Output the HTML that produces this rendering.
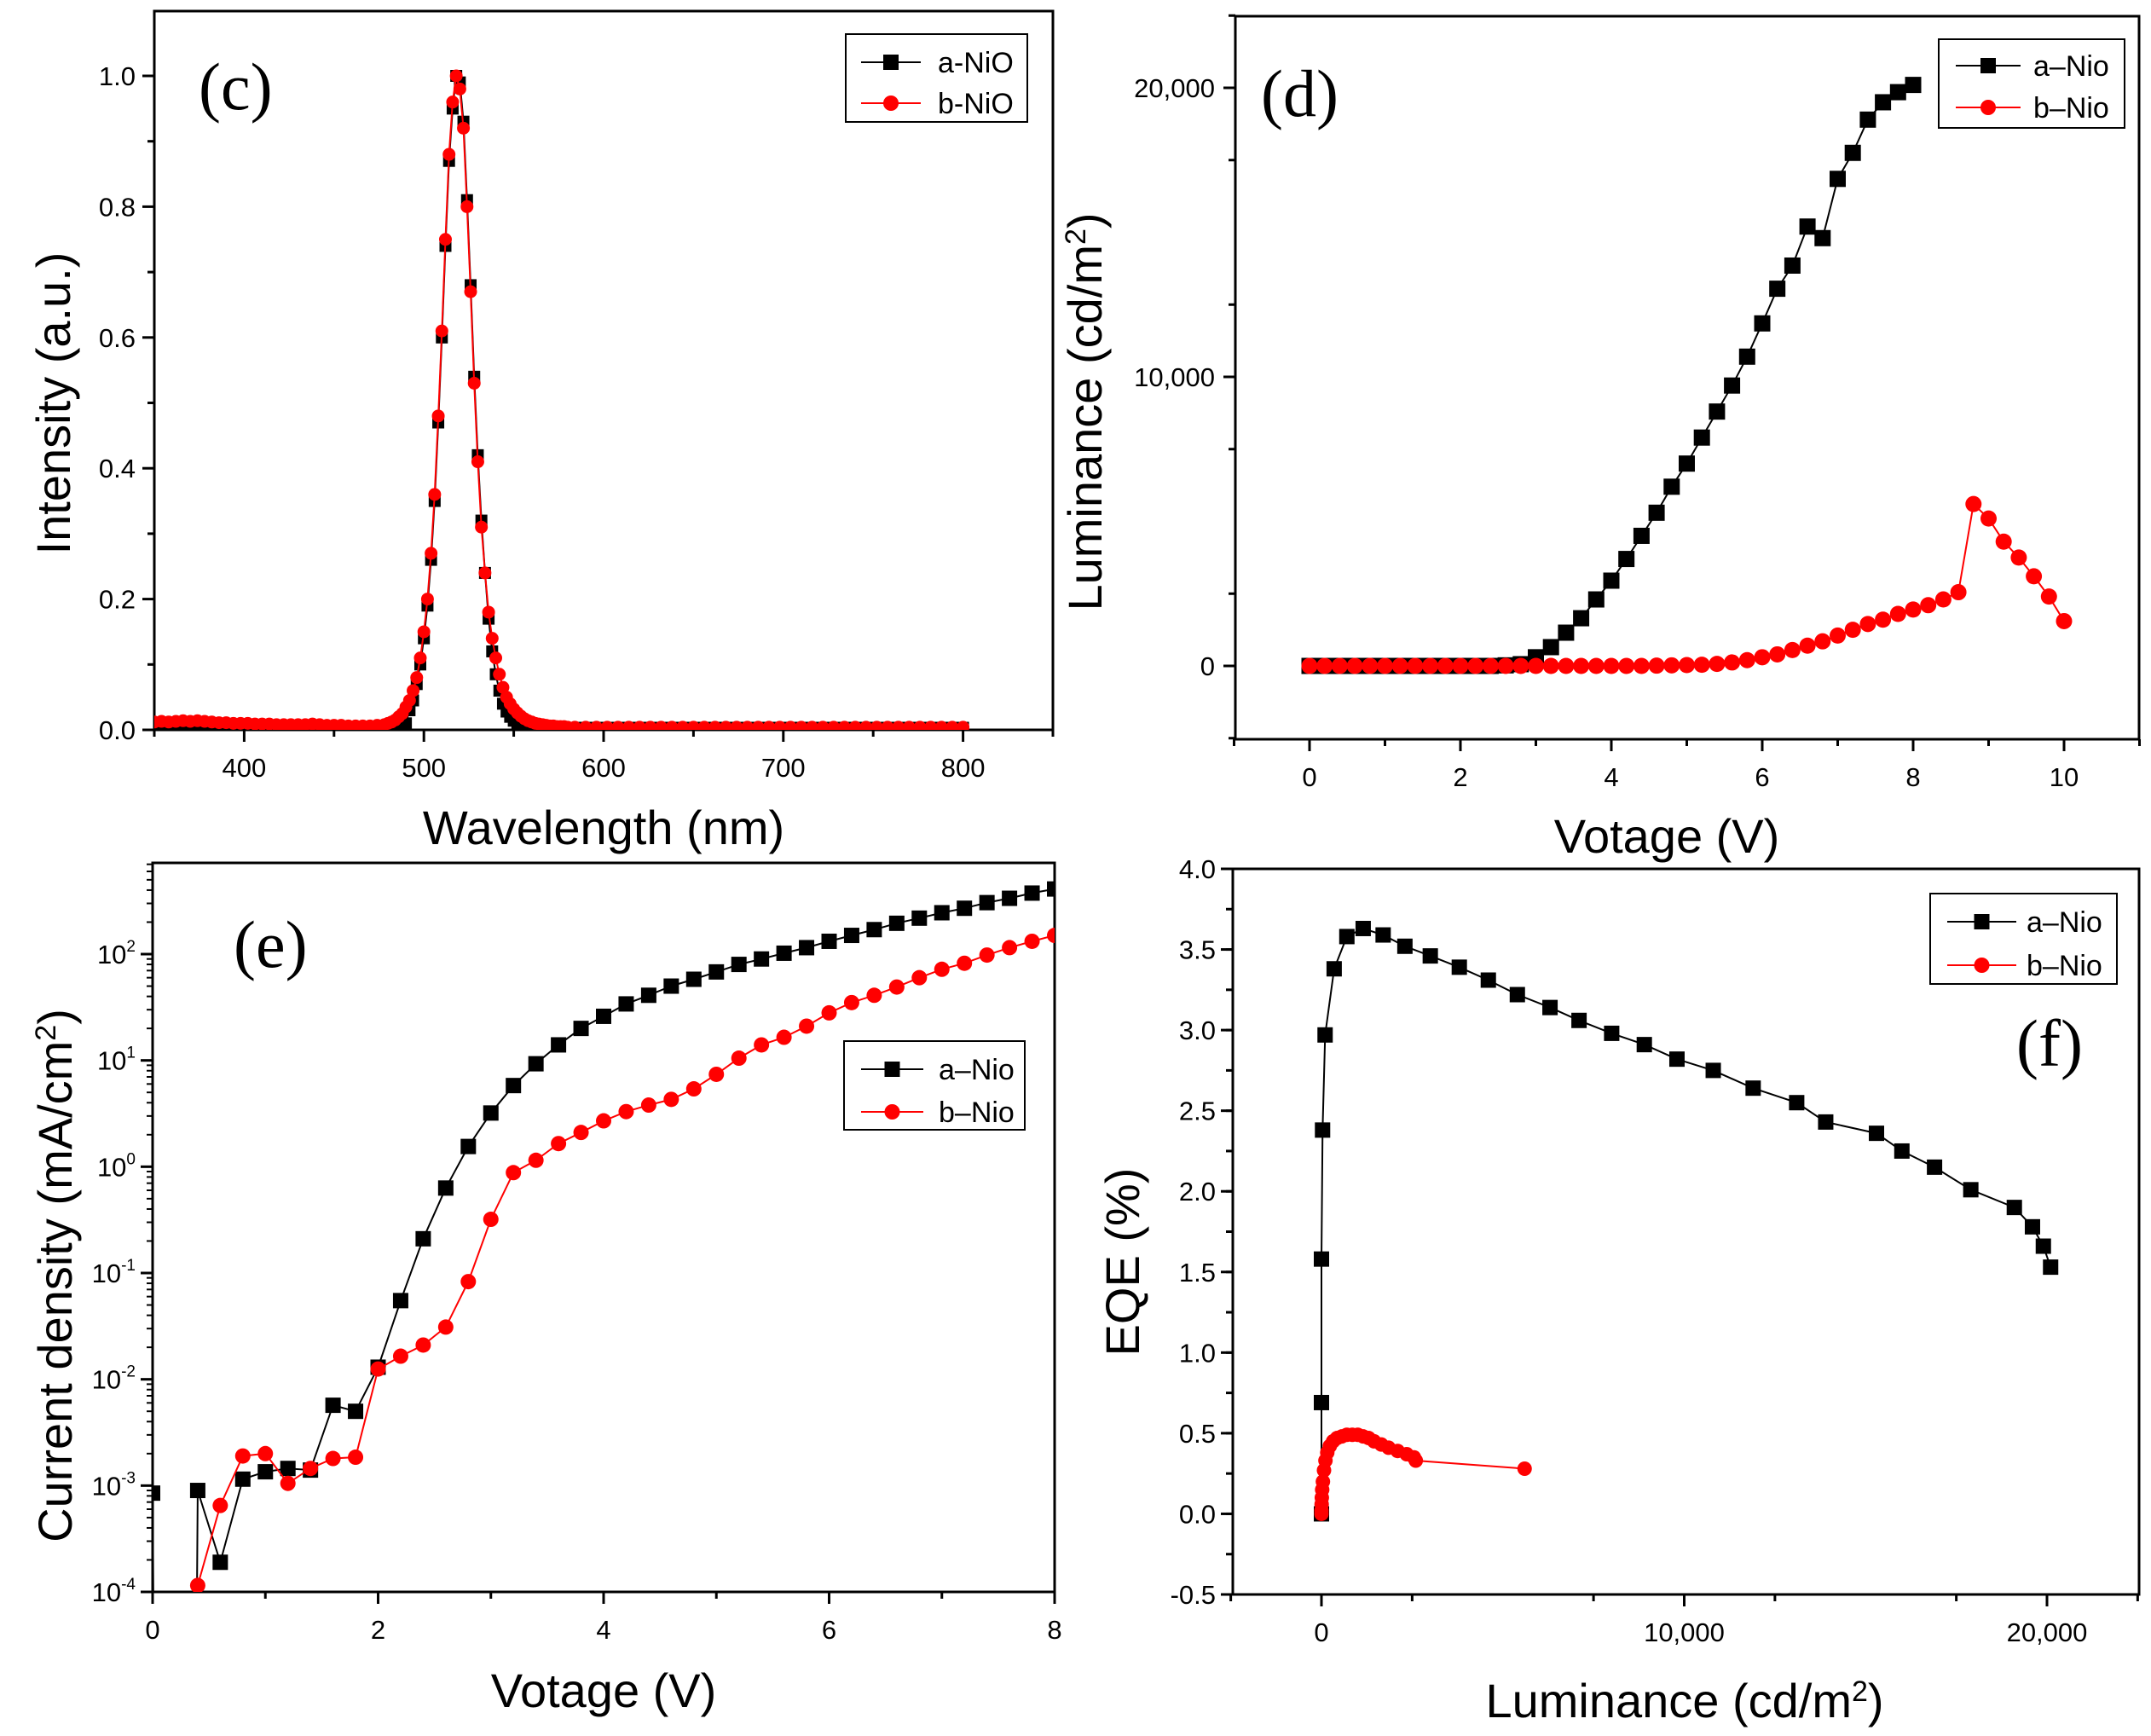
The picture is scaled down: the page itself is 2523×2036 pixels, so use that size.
<!DOCTYPE html>
<html><head><meta charset="utf-8"><style>
html,body{margin:0;padding:0;background:#fff}
svg{display:block}
text{font-family:"Liberation Sans",Arial,sans-serif;fill:#000}
.tk{font-size:31px}
.ttl{font-size:56px}
.lg{font-size:34px}
.pl{font-family:"Liberation Serif",serif;font-size:78px}
</style></head><body>
<svg id="fig" xmlns="http://www.w3.org/2000/svg" width="2523" height="2036" viewBox="0 0 2523 2036">
<defs>
<clipPath id="clipC"><rect x="181" y="13" width="1054" height="843"/></clipPath>
<clipPath id="clipD"><rect x="1449" y="19" width="1060" height="848"/></clipPath>
<clipPath id="clipE"><rect x="179" y="1012" width="1058" height="855"/></clipPath>
<clipPath id="clipF"><rect x="1446" y="1019" width="1063" height="851"/></clipPath>
</defs>
</svg>
<script>
// ---------- data ----------
// Panel (c) PL spectra
const cWaveTail1 = [350,354,358,362,366,370,374,378,382,386,390,394,398,402,406,410,414,418,422,426,430,434,438,442,446,450,454,458,462,466,470,474,478];
const cRedTail1 = [0.012,0.013,0.012,0.013,0.014,0.013,0.014,0.013,0.012,0.011,0.011,0.010,0.010,0.010,0.009,0.009,0.009,0.008,0.008,0.008,0.008,0.008,0.009,0.008,0.007,0.007,0.007,0.006,0.006,0.006,0.006,0.007,0.008];
const cWavePeak = [480,482,484,486,488,490,492,494,496,498,500,502,504,506,508,510,512,514,516,518,520,522,524,526,528,530,532,534,536,538,540,542,544,546,548,550,552,554,556,558,560,562,564,566,568,570,572,574,576,578,580];
const cRedPeak = [0.010,0.012,0.015,0.020,0.025,0.035,0.045,0.060,0.080,0.110,0.150,0.200,0.270,0.360,0.480,0.610,0.750,0.880,0.960,1.000,0.980,0.920,0.800,0.670,0.530,0.410,0.310,0.240,0.180,0.140,0.110,0.085,0.065,0.050,0.040,0.032,0.026,0.021,0.017,0.014,0.012,0.010,0.009,0.008,0.007,0.006,0.006,0.005,0.005,0.005,0.004];
const cBlackPeak = [0.000,0.000,0.000,0.000,0.002,0.010,0.030,0.045,0.070,0.100,0.140,0.190,0.260,0.350,0.470,0.600,0.740,0.870,0.950,1.000,0.990,0.930,0.810,0.680,0.540,0.420,0.320,0.240,0.170,0.120,0.085,0.060,0.040,0.028,0.020,0.014,0.010,0.007,0.005,0.004,0.003,0.003,0.003,0.003,0.003,0.003,0.003,0.003,0.003,0.003,0.003];
const cWaveTail2 = [584,590,596,602,608,614,620,626,632,638,644,650,656,662,668,674,680,686,692,698,704,710,716,722,728,734,740,746,752,758,764,770,776,782,788,794,800];
const cRedTail2 = [0.004,0.004,0.004,0.004,0.004,0.004,0.004,0.004,0.004,0.004,0.004,0.004,0.004,0.004,0.004,0.004,0.004,0.004,0.004,0.004,0.004,0.004,0.004,0.004,0.004,0.004,0.004,0.004,0.004,0.004,0.004,0.004,0.004,0.004,0.004,0.004,0.004];
// Panel (d) L-V
const dVa = [0,0.2,0.4,0.6,0.8,1.0,1.2,1.4,1.6,1.8,2.0,2.2,2.4,2.6,2.8,3.0,3.2,3.4,3.6,3.8,4.0,4.2,4.4,4.6,4.8,5.0,5.2,5.4,5.6,5.8,6.0,6.2,6.4,6.6,6.8,7.0,7.2,7.4,7.6,7.8,8.0];
const dLa = [0,0,0,0,0,0,0,0,0,0,0,0,0,20,60,300,650,1150,1650,2300,2950,3700,4500,5300,6200,7000,7900,8800,9700,10700,11850,13050,13850,15200,14800,16850,17750,18900,19500,19850,20100];
const dVb = [0,0.2,0.4,0.6,0.8,1.0,1.2,1.4,1.6,1.8,2.0,2.2,2.4,2.6,2.8,3.0,3.2,3.4,3.6,3.8,4.0,4.2,4.4,4.6,4.8,5.0,5.2,5.4,5.6,5.8,6.0,6.2,6.4,6.6,6.8,7.0,7.2,7.4,7.6,7.8,8.0,8.2,8.4,8.6,8.8,9.0,9.2,9.4,9.6,9.8,10.0];
const dLb = [0,0,0,0,0,0,0,0,0,0,0,0,0,0,0,0,0,0,0,0,0,0,0,10,20,30,40,70,120,200,300,400,550,700,850,1050,1250,1450,1600,1800,1950,2100,2300,2550,5600,5100,4300,3750,3100,2400,1550];
// Panel (e) J-V (log)
const eVa = [0,0.02,0.38,0.4,0.6,0.8,1.0,1.2,1.4,1.6,1.8,2.0,2.2,2.4,2.6,2.8,3.0,3.2,3.4,3.6,3.8,4.0,4.2,4.4,4.6,4.8,5.0,5.2,5.4,5.6,5.8,6.0,6.2,6.4,6.6,6.8,7.0,7.2,7.4,7.6,7.8,8.0];
const eJa = [8.5e-4,1e-6,1e-6,9e-4,1.9e-4,1.15e-3,1.35e-3,1.45e-3,1.4e-3,5.7e-3,5e-3,1.3e-2,5.5e-2,0.21,0.63,1.55,3.2,5.8,9.3,14,20,26,34,41,50,58,68,80,90,102,115,132,150,170,195,218,245,270,305,335,375,410];
const eVb = [0.36,0.4,0.6,0.8,1.0,1.2,1.4,1.6,1.8,2.0,2.2,2.4,2.6,2.8,3.0,3.2,3.4,3.6,3.8,4.0,4.2,4.4,4.6,4.8,5.0,5.2,5.4,5.6,5.8,6.0,6.2,6.4,6.6,6.8,7.0,7.2,7.4,7.6,7.8,8.0];
const eJb = [1e-6,1.15e-4,6.5e-4,1.9e-3,2e-3,1.05e-3,1.45e-3,1.8e-3,1.85e-3,1.25e-2,1.65e-2,2.1e-2,3.1e-2,8.3e-2,0.32,0.88,1.15,1.65,2.1,2.7,3.3,3.8,4.3,5.4,7.4,10.5,14,16.5,21,28,35,41,49,60,72,82,98,115,132,150];
// Panel (f) EQE-L
const fLa = [0,0,0,30,100,350,700,1150,1700,2300,3000,3800,4600,5400,6300,7100,8000,8900,9800,10800,11900,13100,13900,15300,16000,16900,17900,19100,19600,19900,20100];
const fEa = [0,0.69,1.58,2.38,2.97,3.38,3.58,3.63,3.59,3.52,3.46,3.39,3.31,3.22,3.14,3.06,2.98,2.91,2.82,2.75,2.64,2.55,2.43,2.36,2.25,2.15,2.01,1.9,1.78,1.66,1.53];
const fLb = [0,0,5,10,20,40,70,110,160,230,320,430,560,700,850,1000,1150,1300,1450,1650,1850,2100,2350,2550,2600,5600];
const fEb = [0,0.02,0.06,0.1,0.15,0.2,0.27,0.33,0.38,0.42,0.45,0.47,0.48,0.49,0.49,0.49,0.48,0.47,0.45,0.43,0.41,0.39,0.37,0.35,0.33,0.28];
// ticks
const cXTicks = [400,500,600,700,800];
const cYTicks = [0.0,0.2,0.4,0.6,0.8,1.0];
const dXTicks = [0,2,4,6,8,10];
const dYTicks = [0,10000,20000];
const dYLabels = ["0","10,000","20,000"];
const eXTicks = [0,2,4,6,8];
const eYExp = [-4,-3,-2,-1,0,1,2];
const fXTicks = [0,10000,20000];
const fXLabels = ["0","10,000","20,000"];
const fYTicks = [-0.5,0.0,0.5,1.0,1.5,2.0,2.5,3.0,3.5,4.0];

// ---------- helpers ----------
const NS="http://www.w3.org/2000/svg";
const svg=document.getElementById('fig');
function el(tag,attrs,parent){const e=document.createElementNS(NS,tag);for(const k in attrs)e.setAttribute(k,attrs[k]);(parent||svg).appendChild(e);return e;}
function txt(s,attrs,parent){const t=el('text',attrs,parent);t.textContent=s;return t;}
function lin(a,b,c,d){return v=>c+(v-a)*(d-c)/(b-a);}
function logs(a,b,c,d){return v=>c+(Math.log10(v)-a)*(d-c)/(b-a);}
function frame(g,x0,x1,y0,y1){
  el('rect',{x:x0,y:y0,width:x1-x0,height:y1-y0,fill:'none',stroke:'#000','stroke-width':3},g);
}
function series(g,xs,ys,sx,sy,color,shape,clip,size){
  const sg=el('g',{'clip-path':'url(#'+clip+')'},g);
  let d='';
  xs.forEach((x,i)=>{d+=(i?'L':'M')+sx(x).toFixed(1)+','+sy(ys[i]).toFixed(1);});
  const p=el('path',{d:d,fill:'none',stroke:color,'stroke-width':2},sg);
  
  
  xs.forEach((x,i)=>{
    const X=sx(x),Y=sy(ys[i]);
    let m;
    if(shape==='sq'){m=el('rect',{x:X-size/2,y:Y-size/2,width:size,height:size,fill:color},sg);}
    else{m=el('circle',{cx:X,cy:Y,r:size/2,fill:color},sg);}
    
    
  });
}
function legend(g,bx,by,bw,bh,r1,r2,lx0,lx1,tx,lab1,lab2,ms){
  const lg=el('g',{},g);
  
  
  el('rect',{x:bx,y:by,width:bw,height:bh,fill:'#fff',stroke:'#000','stroke-width':2},lg);
  const mx=(lx0+lx1)/2;
  el('line',{x1:lx0,y1:r1,x2:lx1,y2:r1,stroke:'#000','stroke-width':2},lg);
  el('rect',{x:mx-ms/2,y:r1-ms/2,width:ms,height:ms,fill:'#000'},lg);
  const t1=txt(lab1,{x:tx,y:r1+12,class:'lg'},lg);
  
  
  el('line',{x1:lx0,y1:r2,x2:lx1,y2:r2,stroke:'#f00','stroke-width':2},lg);
  el('circle',{cx:mx,cy:r2,r:ms/2,fill:'#f00'},lg);
  const t2=txt(lab2,{x:tx,y:r2+12,class:'lg'},lg);
  
  
}
function vtitle(g,x,y,parts,name){
  const t=el('text',{x:0,y:0,class:'ttl','text-anchor':'middle',transform:'translate('+x+','+y+') rotate(-90)'},g);
  
  
  parts.forEach(p=>{const s=el('tspan',p[1]?{'baseline-shift':'super','font-size':'34px'}:{},t);s.textContent=p[0];});
  return t;
}
function htitle(g,x,y,parts,name){
  const t=el('text',{x:x,y:y,class:'ttl','text-anchor':'middle'},g);
  
  
  parts.forEach(p=>{const s=el('tspan',p[1]?{'baseline-shift':'super','font-size':'34px'}:{},t);s.textContent=p[0];});
  return t;
}

// ---------- Panel C ----------
(function(){
const g=el('g',{});


const X0=181,X1=1235,Y0=13,Y1=856;
const sx=lin(350,850,X0,X1), sy=lin(0,1.0,856,89);
frame(g,X0,X1,Y0,Y1);
for(let v=350;v<=850;v+=50){const X=sx(v);el('line',{x1:X,y1:Y1,x2:X,y2:Y1+(v%100===0?14:8),stroke:'#000','stroke-width':3},g);}
cXTicks.forEach(v=>{const t=txt(String(v),{x:sx(v),y:Y1+55,class:'tk','text-anchor':'middle'},g);});
for(let i=0;i<=10;i++){const Y=sy(i*0.1);el('line',{x1:X0,y1:Y,x2:X0-(i%2===0?14:8),y2:Y,stroke:'#000','stroke-width':3},g);}
cYTicks.forEach(v=>{const t=txt(v.toFixed(1),{x:X0-22,y:sy(v)+11,class:'tk','text-anchor':'end'},g);});
const bx=cWaveTail1.concat(cWavePeak,cWaveTail2);
const blk=cRedTail1.map(v=>v*0.6).concat(cBlackPeak,cRedTail2.map(v=>v*0.8));
const red=cRedTail1.concat(cRedPeak,cRedTail2);
series(g,bx,blk,sx,sy,'#000','sq','clipC',14);
series(g,bx,red,sx,sy,'#f00','ci','clipC',15);
legend(g,992,40,213,103,73,121,1010,1080,1100,'a-NiO','b-NiO',18);
const p=txt('(c)',{x:233,y:128,class:'pl'},g);
vtitle(g,82,473,[['Intensity (a.u.)']],'y-axis-title');
htitle(g,708,990,[['Wavelength (nm)']],'x-axis-title');
})();

// ---------- Panel D ----------
(function(){
const g=el('g',{});


const X0=1449,X1=2509,Y0=19,Y1=867;
const sx=lin(0,10,1536,2421), sy=lin(0,20000,781,103);
frame(g,X0,X1,Y0,Y1);
for(let v=-1;v<=11;v++){const X=sx(v);el('line',{x1:X,y1:Y1,x2:X,y2:Y1+(v%2===0?14:8),stroke:'#000','stroke-width':3},g);}
dXTicks.forEach(v=>{const t=txt(String(v),{x:sx(v),y:Y1+55,class:'tk','text-anchor':'middle'},g);});
for(let v=-2500;v<=22500;v+=5000){const Y=sy(v);el('line',{x1:X0,y1:Y,x2:X0-8,y2:Y,stroke:'#000','stroke-width':3},g);}
dYTicks.forEach((v,i)=>{const Y=sy(v);el('line',{x1:X0,y1:Y,x2:X0-14,y2:Y,stroke:'#000','stroke-width':3},g);const t=txt(dYLabels[i],{x:X0-24,y:Y+11,class:'tk','text-anchor':'end'},g);});
series(g,dVa,dLa,sx,sy,'#000','sq','clipD',19);
series(g,dVb,dLb,sx,sy,'#f00','ci','clipD',19);
legend(g,2274,46,218,104,77,126,2294,2370,2385,'a\u2013Nio','b\u2013Nio',18);
const p=txt('(d)',{x:1479,y:136,class:'pl'},g);
vtitle(g,1292,483,[['Luminance (cd/m'],['2',1],[')']],'y-axis-title');
htitle(g,1955,1000,[['Votage (V)']],'x-axis-title');
})();

// ---------- Panel E ----------
(function(){
const g=el('g',{});


const X0=179,X1=1237,Y0=1012,Y1=1867;
const sx=lin(0,8,X0,X1), sy=logs(-4,2,1867,1119);
frame(g,X0,X1,Y0,Y1);
for(let v=0;v<=8;v++){const X=sx(v);el('line',{x1:X,y1:Y1,x2:X,y2:Y1+(v%2===0?14:8),stroke:'#000','stroke-width':3},g);}
eXTicks.forEach(v=>{const t=txt(String(v),{x:sx(v),y:Y1+55,class:'tk','text-anchor':'middle'},g);});
for(let e=-4;e<=2;e++){for(let m=1;m<10;m++){const v=m*Math.pow(10,e);const Y=sy(v);if(Y<Y0)continue;el('line',{x1:X0,y1:Y,x2:X0-(m===1?14:7),y2:Y,stroke:'#000','stroke-width':m===1?3:2},g);}}
eYExp.forEach(e=>{const t=el('text',{x:X0-20,y:sy(Math.pow(10,e))+11,class:'tk','text-anchor':'end'},g);const a=el('tspan',{},t);a.textContent='10';const b=el('tspan',{'font-size':'19px',dy:'-14'},t);b.textContent=String(e);});
series(g,eVa,eJa,sx,sy,'#000','sq','clipE',18);
series(g,eVb,eJb,sx,sy,'#f00','ci','clipE',18);
legend(g,990,1221,212,104,1254,1304,1010,1083,1101,'a\u2013Nio','b\u2013Nio',18);
const p=txt('(e)',{x:274,y:1134,class:'pl'},g);
vtitle(g,84,1496,[['Current density (mA/cm'],['2',1],[')']],'y-axis-title');
htitle(g,708,2002,[['Votage (V)']],'x-axis-title');
})();

// ---------- Panel F ----------
(function(){
const g=el('g',{});


const X0=1446,X1=2509,Y0=1019,Y1=1870;
const sx=lin(0,20000,1550,2401), sy=lin(-0.5,4.0,1870,1019);
frame(g,X0,X1,Y0,Y1);
for(let v=-2500;v<=22500;v+=5000){const X=sx(v);el('line',{x1:X,y1:Y1,x2:X,y2:Y1+8,stroke:'#000','stroke-width':3},g);}
fXTicks.forEach((v,i)=>{const X=sx(v);el('line',{x1:X,y1:Y1,x2:X,y2:Y1+14,stroke:'#000','stroke-width':3},g);const t=txt(fXLabels[i],{x:X,y:Y1+55,class:'tk','text-anchor':'middle'},g);});
for(let v=-0.5;v<=4.0001;v+=0.25){const Y=sy(v);el('line',{x1:X0,y1:Y,x2:X0-8,y2:Y,stroke:'#000','stroke-width':3},g);}
fYTicks.forEach(v=>{const Y=sy(v);el('line',{x1:X0,y1:Y,x2:X0-14,y2:Y,stroke:'#000','stroke-width':3},g);const t=txt(v.toFixed(1),{x:X0-20,y:Y+11,class:'tk','text-anchor':'end'},g);});
series(g,fLa,fEa,sx,sy,'#000','sq','clipF',18);
series(g,fLb,fEb,sx,sy,'#f00','ci','clipF',17);
legend(g,2264,1048,219,106,1081,1132,2284,2365,2377,'a\u2013Nio','b\u2013Nio',18);
const p=txt('(f)',{x:2365,y:1250,class:'pl'},g);
vtitle(g,1336,1480,[['EQE (%)']],'y-axis-title');
htitle(g,1976,2014,[['Luminance (cd/m'],['2',1],[')']],'x-axis-title');
})();
</script>
</body></html>
